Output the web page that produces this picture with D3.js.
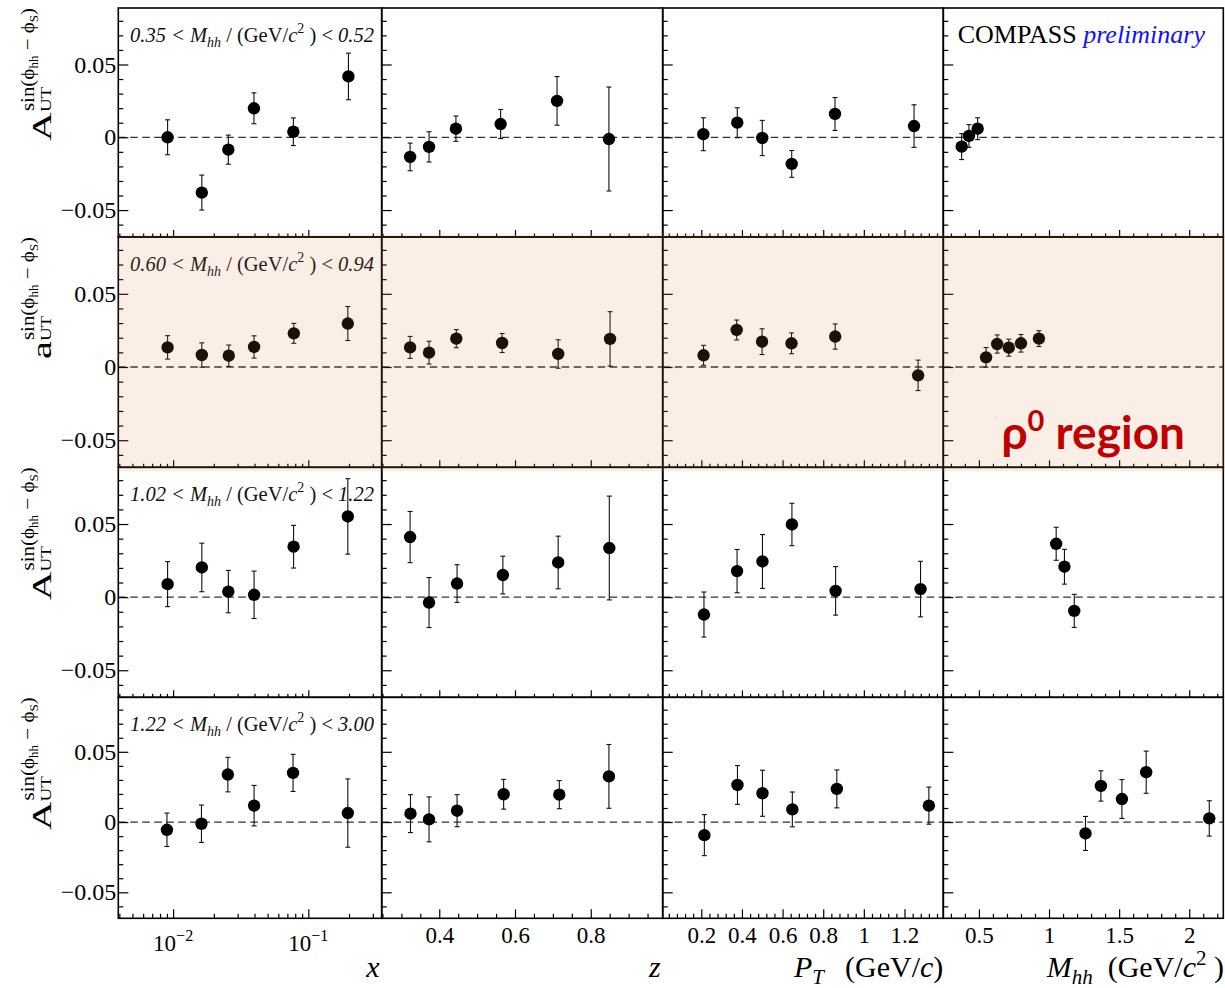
<!DOCTYPE html>
<html><head><meta charset="utf-8">
<script src="https://cdn.jsdelivr.net/npm/d3@7"></script>
<style>
body{margin:0;background:#fff;}
svg{display:block;}
svg text{font-family:"Liberation Serif","Times New Roman",serif;}
svg text.sans{font-family:Lato,"Noto Sans",sans-serif;}
</style>
</head><body><svg id="c" width="1225" height="988"></svg>
<script>
// ---------------- DATA ----------------
// Mass bins (one per row)
const massBins = [["0.35","0.52"],["0.60","0.94"],["1.02","1.22"],["1.22","3.00"]];
const rowLetters = ["A","a","A","A"];

// Column 1: Bjorken x
const xPos = [
  [0.0091,0.0163,0.0256,0.0396,0.0775,0.198],
  [0.0091,0.0163,0.0258,0.0397,0.0781,0.196],
  [0.0091,0.0163,0.0256,0.0397,0.0778,0.196],
  [0.0090,0.0162,0.0254,0.0397,0.0771,0.196]];
const xVal = [
  [0.000,-0.038,-0.0085,0.0199,0.0038,0.0418],
  [0.0134,0.0082,0.0077,0.0137,0.023,0.0297],
  [0.0089,0.0203,0.0038,0.0016,0.0345,0.0552],
  [-0.0055,-0.0012,0.0338,0.0117,0.035,0.0064]];
const xErr = [
  [0.012,0.012,0.010,0.0106,0.0095,0.016],
  [0.008,0.0083,0.0073,0.0076,0.0068,0.0116],
  [0.0154,0.0166,0.0145,0.0162,0.0146,0.0258],
  [0.0119,0.0133,0.0123,0.0144,0.0132,0.0243]];

// Column 2: z
const zPos = [
  [0.323,0.373,0.444,0.562,0.711,0.848],
  [0.323,0.373,0.445,0.566,0.714,0.851],
  [0.323,0.373,0.447,0.568,0.714,0.849],
  [0.324,0.373,0.447,0.570,0.717,0.848]];
const zVal = [
  [-0.0135,-0.0066,0.0059,0.0091,0.025,-0.0012],
  [0.0134,0.0098,0.0194,0.0164,0.0089,0.0192],
  [0.0411,-0.0037,0.0093,0.0151,0.0237,0.0336],
  [0.0060,0.0019,0.0081,0.0198,0.0195,0.0325]];
const zErr = [
  [0.0095,0.0104,0.0087,0.010,0.0167,0.0357],
  [0.0075,0.0078,0.0062,0.0065,0.0097,0.0186],
  [0.0175,0.0171,0.0129,0.0129,0.018,0.0355],
  [0.0135,0.016,0.0114,0.0106,0.010,0.0227]];

// Column 3: P_T
const ptPos = [
  [0.210,0.377,0.500,0.645,0.858,1.247],
  [0.211,0.374,0.499,0.644,0.859,1.267],
  [0.213,0.376,0.501,0.646,0.861,1.279],
  [0.215,0.378,0.501,0.648,0.867,1.320]];
const ptVal = [
  [0.0021,0.010,-0.0005,-0.0183,0.016,0.0077],
  [0.0080,0.0253,0.0173,0.0162,0.0208,-0.0057],
  [-0.0119,0.0178,0.0244,0.0497,0.0043,0.0055],
  [-0.0093,0.0264,0.0205,0.0090,0.0236,0.0117]];
const ptErr = [
  [0.0113,0.0103,0.0121,0.0092,0.0113,0.0146],
  [0.0068,0.0068,0.0088,0.0071,0.0086,0.0104],
  [0.0154,0.0148,0.0184,0.0145,0.0166,0.019],
  [0.0146,0.0138,0.0164,0.0124,0.0135,0.0132]];

// Column 4: M_hh
const mPos = [
  [0.377,0.429,0.491],
  [0.551,0.630,0.713,0.800,0.928],
  [1.051,1.110,1.180],
  [1.260,1.370,1.520,1.693,2.143]];
const mVal = [
  [-0.0064,0.0009,0.0059],
  [0.0066,0.0157,0.0132,0.0162,0.0194],
  [0.0365,0.0208,-0.0094],
  [-0.0081,0.0257,0.0164,0.0355,0.0026]];
const mErr = [
  [0.0089,0.0078,0.0075],
  [0.0067,0.0062,0.0058,0.006,0.0054],
  [0.0113,0.0119,0.0113],
  [0.0121,0.0108,0.0138,0.015,0.0126]];

// Axis ranges and tick labels
const xRange = [0.00393,0.349];
const zRange = [0.248,0.990];
const ptRange = [0.01,1.391];
const mRange = [0.246,2.243];
const yRange = [-0.0685,0.0888];
const yTickLabels = [-0.05,0,0.05];
const xLogLabels = [0.01,0.1];
const zTickLabels = [0.4,0.6,0.8];
const ptTickLabels = [0.2,0.4,0.6,0.8,1,1.2];
const mTickLabels = [0.5,1,1.5,2];

// ---------------- LAYOUT ----------------
const SERIF = "'Liberation Serif','Times New Roman',serif";
const svg = d3.select("#c");
const colEdges = [118.3,381.7,662.7,943.3,1223.3];
const rowEdges = [8,237,467.3,697.3,918.3];

const cols = [
  {pos:xPos,val:xVal,err:xErr,range:xRange,log:true,labels:xLogLabels},
  {pos:zPos,val:zVal,err:zErr,range:zRange,log:false,labels:zTickLabels,minorStep:0.05,majorStep:0.2},
  {pos:ptPos,val:ptVal,err:ptErr,range:ptRange,log:false,labels:ptTickLabels,minorStep:0.04,majorStep:0.2},
  {pos:mPos,val:mVal,err:mErr,range:mRange,log:false,labels:mTickLabels,minorStep:0.1,majorStep:0.5}
];

function stepTicks(domain, step){
  const out=[]; const k0=Math.ceil(domain[0]/step-1e-9), k1=Math.floor(domain[1]/step+1e-9);
  for(let k=k0;k<=k1;k++) out.push(+(k*step).toFixed(6));
  return out;
}
function isMultiple(v, step){ const q=v/step; return Math.abs(q-Math.round(q))<1e-6; }

const yMajor = stepTicks(yRange,0.05);
const yMinor = stepTicks(yRange,0.01).filter(v=>!isMultiple(v,0.05));

for(let r=0;r<4;r++){
  const y = d3.scaleLinear().domain(yRange).range([rowEdges[r+1],rowEdges[r]]);
  for(let c=0;c<4;c++){
    const col = cols[c];
    const x0=colEdges[c], x1=colEdges[c+1];
    const x = (col.log?d3.scaleLog():d3.scaleLinear()).domain(col.range).range([x0,x1]);
    const g = svg.append("g");
    // zero line
    g.append("line").attr("x1",x0).attr("x2",x1).attr("y1",y(0)).attr("y2",y(0))
      .attr("stroke","#333").attr("stroke-width",1.3).attr("stroke-dasharray","7.5,4.5");
    const pts = col.pos[r].map((p,i)=>({p, v:col.val[r][i], e:col.err[r][i]}));
    // error bars
    const eb = g.append("g").attr("stroke","#111").attr("stroke-width",1.1);
    eb.selectAll(".v").data(pts).join("line")
      .attr("x1",d=>x(d.p)).attr("x2",d=>x(d.p)).attr("y1",d=>y(d.v-d.e)).attr("y2",d=>y(d.v+d.e));
    eb.selectAll(".t").data(pts).join("line")
      .attr("x1",d=>x(d.p)-2.5).attr("x2",d=>x(d.p)+2.5).attr("y1",d=>y(d.v+d.e)).attr("y2",d=>y(d.v+d.e));
    eb.selectAll(".b").data(pts).join("line")
      .attr("x1",d=>x(d.p)-2.5).attr("x2",d=>x(d.p)+2.5).attr("y1",d=>y(d.v-d.e)).attr("y2",d=>y(d.v-d.e));
    g.append("g").selectAll("circle").data(pts).join("circle")
      .attr("cx",d=>x(d.p)).attr("cy",d=>y(d.v)).attr("r",6.2).attr("fill","#000");
    // y ticks
    const ya = g.append("g").attr("transform",`translate(${x0},0)`);
    ya.append("g").call(d3.axisLeft(y).tickValues(yMajor).tickSize(-10).tickFormat(""))
      .call(s=>s.select(".domain").remove());
    ya.append("g").call(d3.axisLeft(y).tickValues(yMinor).tickSize(-5).tickFormat(""))
      .call(s=>s.select(".domain").remove());
    ya.selectAll("line").attr("stroke","#000").attr("stroke-width",1.2);
    if(c===0){
      ya.append("g").call(d3.axisLeft(y).tickValues(yTickLabels).tickSize(0).tickPadding(2)
          .tickFormat(v=>v===0?"0":(v<0?"\u2212":"")+Math.abs(v).toFixed(2)))
        .call(s=>s.select(".domain").remove())
        .call(s=>s.attr("font-family",null).attr("font-size",null))
        .call(s=>s.selectAll("text").style("font-family",SERIF).style("font-size","24px").attr("fill","#000"));
    }
    // x ticks
    let majors, minors;
    if(col.log){
      const all = x.ticks();
      majors = all.filter(v=>Math.abs(Math.log10(v)-Math.round(Math.log10(v)))<1e-6);
      minors = all.filter(v=>!majors.includes(v));
    } else {
      majors = stepTicks(col.range,col.majorStep);
      minors = stepTicks(col.range,col.minorStep).filter(v=>!isMultiple(v,col.majorStep));
    }
    const bigT = r===3?9:7, smT = r===3?4.5:3.5;
    const xa = g.append("g").attr("transform",`translate(0,${rowEdges[r+1]})`);
    xa.append("g").call(d3.axisBottom(x).tickValues(majors).tickSize(-bigT).tickFormat(""))
      .call(s=>s.select(".domain").remove());
    xa.append("g").call(d3.axisBottom(x).tickValues(minors).tickSize(-smT).tickFormat(""))
      .call(s=>s.select(".domain").remove());
    xa.selectAll("line").attr("stroke","#000").attr("stroke-width",1.2);
    if(r===3){
      if(col.log){
        const lab = xa.append("g").selectAll("text").data(col.labels).join("text")
          .attr("x",d=>x(d)).attr("y",33).attr("text-anchor","middle")
          .style("font-family",SERIF).style("font-size","23px");
        lab.append("tspan").text("10");
        lab.append("tspan").style("font-size","16px").attr("dy",-10).text(d=>"\u2212"+Math.round(-Math.log10(d)));
      } else {
        xa.append("g").call(d3.axisBottom(x).tickValues(col.labels).tickSize(0).tickPadding(8)
            .tickFormat(d=>String(d)))
          .call(s=>s.select(".domain").remove())
          .call(s=>s.attr("font-family",null).attr("font-size",null))
          .call(s=>s.selectAll("text").style("font-family",SERIF).style("font-size","23px").attr("fill","#000"));
      }
    }
    // frame
    g.append("rect").attr("x",x0).attr("y",rowEdges[r]).attr("width",x1-x0).attr("height",rowEdges[r+1]-rowEdges[r])
      .attr("fill","none").attr("stroke","#000").attr("stroke-width",1.6);
  }
  // mass-bin label
  const t = svg.append("text").attr("x",130).attr("y",rowEdges[r]+33.5).style("font-size","20.5px").attr("fill","#111");
  t.append("tspan").attr("font-style","italic").text(massBins[r][0]+" < M");
  t.append("tspan").attr("font-style","italic").style("font-size","14px").attr("dy",5).text("hh");
  t.append("tspan").attr("dy",-5).text(" / (GeV/");
  t.append("tspan").attr("font-style","italic").text("c");
  t.append("tspan").style("font-size","14px").attr("dy",-9).text("2");
  t.append("tspan").attr("dy",9).text(" ) < ");
  t.append("tspan").attr("font-style","italic").text(massBins[r][1]);

  // y-axis title
  const yt = svg.append("g");
  const tA = yt.append("text").style("font-size","40px").attr("transform","scale(1,0.66)").text(rowLetters[r]);
  const wA = tA.node().getComputedTextLength();
  const tU = yt.append("text").style("font-size","19px").attr("transform",`translate(${wA},0) scale(1,0.8)`).text("UT");
  const tS = yt.append("text").style("font-size","21px").attr("transform",`translate(${wA+1},-17) scale(1,0.92)`);
  tS.append("tspan").text("sin(\u03d5");
  tS.append("tspan").style("font-size","13px").attr("dy",5).text("hh");
  tS.append("tspan").attr("dy",-5).text(" \u2212 \u03d5");
  tS.append("tspan").style("font-size","13px").attr("dy",5).text("S");
  tS.append("tspan").attr("dy",-5).text(")");
  const total = wA + 1 + Math.max(tU.node().getComputedTextLength(), tS.node().getComputedTextLength());
  yt.attr("transform",`translate(50.5,${rowEdges[r]+total}) rotate(-90)`);
}

// rho region shading over second row
svg.append("rect").attr("x",colEdges[0]).attr("y",233.5).attr("width",1225-colEdges[0]).attr("height",471.5-233.5)
  .attr("fill","rgb(215,120,60)").attr("opacity",0.13);

const rho = svg.append("text").attr("class","sans").attr("x",1185).attr("y",449).attr("text-anchor","end")
  .attr("font-weight","bold").style("font-size","46px").attr("fill","#c00000");
rho.append("tspan").text("\u03c1");
rho.append("tspan").style("font-size","29px").attr("dy",-18).text("0");
rho.append("tspan").attr("dy",18).text(" region");

// COMPASS preliminary
const cp = svg.append("text").attr("x",957.7).attr("y",43.3).style("font-size","26px");
cp.append("tspan").attr("fill","#000").text("COMPASS ");
cp.append("tspan").attr("fill","#1010ff").attr("font-style","italic").text("preliminary");

// axis titles
const titleY = 977;
svg.append("text").attr("x",colEdges[1]-2).attr("y",titleY).attr("text-anchor","end").style("font-size","30px")
  .attr("font-style","italic").text("x");
svg.append("text").attr("x",colEdges[2]-2).attr("y",titleY).attr("text-anchor","end").style("font-size","30px")
  .attr("font-style","italic").text("z");
const ptT = svg.append("text").attr("x",colEdges[3]).attr("y",titleY).attr("text-anchor","end").style("font-size","30px");
ptT.append("tspan").attr("font-style","italic").text("P");
ptT.append("tspan").attr("font-style","italic").style("font-size","21px").attr("dy",7).text("T");
ptT.append("tspan").attr("dy",-7).text("\u2002\u2009(GeV/");
ptT.append("tspan").attr("font-style","italic").text("c");
ptT.append("tspan").text(")");
const mT = svg.append("text").attr("x",1224).attr("y",titleY).attr("text-anchor","end").style("font-size","30px");
mT.append("tspan").attr("font-style","italic").text("M");
mT.append("tspan").attr("font-style","italic").style("font-size","21px").attr("dy",7).text("hh");
mT.append("tspan").attr("dy",-7).text("\u2002(GeV/");
mT.append("tspan").attr("font-style","italic").text("c");
mT.append("tspan").style("font-size","21px").attr("dy",-12).text("2");
mT.append("tspan").attr("dy",12).text(" )");
</script>
</body></html>
